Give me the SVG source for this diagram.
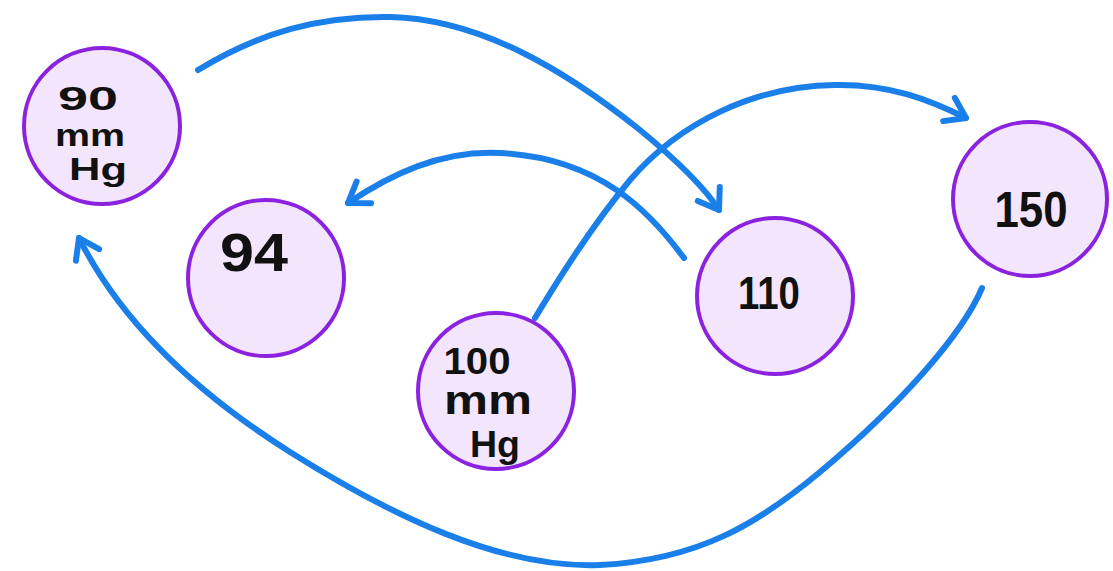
<svg xmlns="http://www.w3.org/2000/svg" width="1113" height="571" viewBox="0 0 1113 571">
  <defs>
    <marker id="head" markerUnits="userSpaceOnUse" markerWidth="40" markerHeight="40" refX="0" refY="0" orient="auto" overflow="visible">
      <path d="M-19,-13 L0,0 L-19,13" fill="none" stroke="#1a7fe8" stroke-width="6" stroke-linecap="round" stroke-linejoin="round"/>
    </marker>
    <style>
      .node circle { fill: #f3e5fc; stroke: #8b22df; stroke-width: 4; }
      .node text { font-family: "Liberation Sans", Arial, sans-serif; font-weight: bold; fill: #111; text-anchor: middle; }
      .edge { fill: none; stroke: #1a7fe8; stroke-width: 6; stroke-linecap: round; marker-end: url(#head); }
    </style>
  </defs>
  <rect width="1113" height="571" fill="#ffffff"/>

  <g id="connectors">
    <!-- 90 mm Hg to 110 -->
    <path class="edge" d="M198,70 C260,32 320,16 390,17 C480,19 565,70 640,130 C680,163 705,188 719,210"/>
    <!-- 110 to 94 -->
    <path class="edge" d="M684,258 C650,212 600,158 500,153 C440,150 390,175 348,203"/>
    <!-- 100 mm Hg to 150 -->
    <path class="edge" d="M535,318 C565,268 595,222 630,180 C680,122 755,86 835,85 C890,84 930,100 966,118"/>
    <!-- 150 to 90 mm Hg -->
    <path class="edge" d="M982,288 C962,335 900,405 820,472 C760,522 700,560 600,565 C500,569 390,515 290,452 C195,392 120,320 79,238"/>
  </g>

  <g id="node-90" class="node">
    <circle cx="102" cy="126" r="78"/>
    <text x="88" y="110" font-size="34" textLength="60" lengthAdjust="spacingAndGlyphs">90</text>
    <text x="90" y="146" font-size="32" textLength="70" lengthAdjust="spacingAndGlyphs">mm</text>
    <text x="98" y="180" font-size="32" textLength="58" lengthAdjust="spacingAndGlyphs">Hg</text>
  </g>

  <g id="node-94" class="node">
    <circle cx="266" cy="278" r="78"/>
    <text x="254" y="271" font-size="54" textLength="68" lengthAdjust="spacingAndGlyphs">94</text>
  </g>

  <g id="node-100" class="node">
    <circle cx="496" cy="391" r="78"/>
    <text x="477" y="374" font-size="36" textLength="67" lengthAdjust="spacingAndGlyphs">100</text>
    <text x="488" y="414" font-size="40" textLength="88" lengthAdjust="spacingAndGlyphs">mm</text>
    <text x="495" y="457" font-size="36" textLength="50" lengthAdjust="spacingAndGlyphs">Hg</text>
  </g>

  <g id="node-110" class="node">
    <circle cx="775" cy="296" r="78"/>
    <text x="769" y="309" font-size="46" textLength="62" lengthAdjust="spacingAndGlyphs">110</text>
  </g>

  <g id="node-150" class="node">
    <circle cx="1030" cy="199" r="77"/>
    <text x="1031" y="227" font-size="50" textLength="73" lengthAdjust="spacingAndGlyphs">150</text>
  </g>
</svg>
